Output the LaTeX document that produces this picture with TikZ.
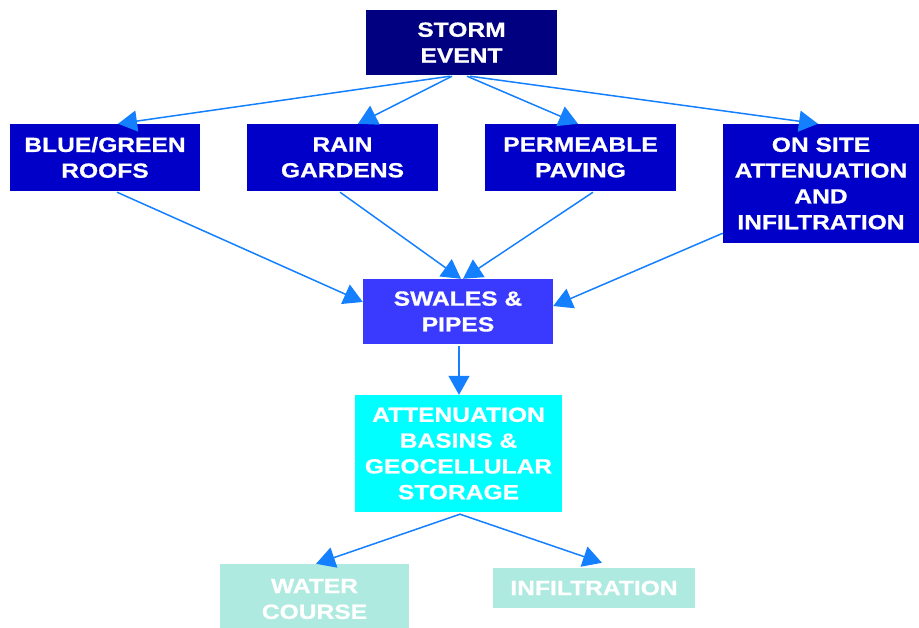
\documentclass[tikz,border=0pt]{standalone}
\usepackage{fontspec}
\setmainfont{Liberation Sans}[FakeStretch=1.2, BoldFeatures={FakeBold=0.8}]
\usetikzlibrary{arrows.meta}
\definecolor{navy}{RGB}{0,0,128}
\definecolor{rowblue}{RGB}{0,0,200}
\definecolor{swblue}{RGB}{58,58,255}
\definecolor{cyanbox}{RGB}{0,255,255}
\definecolor{palebox}{RGB}{175,234,224}
\definecolor{arrowblue}{RGB}{20,128,255}
\tikzset{
  box/.style={rectangle, inner sep=0pt, align=center, text=white,
    font=\fontsize{20.5}{25.8}\selectfont\bfseries},
  flow/.style={draw=arrowblue, line width=1.5pt, -{Triangle[length=19pt,width=21pt]}},
}
\begin{document}
\begin{tikzpicture}[x=1pt,y=-1pt]
\useasboundingbox (0,0) rectangle (919,628);
\node[box, fill=navy, minimum width=191pt, minimum height=65pt] (storm) at (461.5,42.5) {STORM\\EVENT};
\node[box, fill=rowblue, minimum width=190pt, minimum height=67pt] (bg) at (105,157.5) {BLUE/GREEN\\ROOFS};
\node[box, fill=rowblue, minimum width=191pt, minimum height=67pt] (rain) at (342.5,157.5) {RAIN\\GARDENS};
\node[box, fill=rowblue, minimum width=191pt, minimum height=67pt] (perm) at (580.5,157.5) {PERMEABLE\\PAVING};
\node[box, fill=rowblue, minimum width=196pt, minimum height=119pt] (onsite) at (821,183.5) {ON SITE\\ATTENUATION\\AND\\INFILTRATION};
\node[box, fill=swblue, minimum width=190pt, minimum height=65pt] (swales) at (458,311.5) {SWALES \&\\PIPES};
\node[box, fill=cyanbox, minimum width=207pt, minimum height=117pt] (atten) at (458.5,453.5) {ATTENUATION\\BASINS \&\\GEOCELLULAR\\STORAGE};
\node[box, fill=palebox, minimum width=189pt, minimum height=70pt] (water) at (314.5,599) {WATER\\COURSE};
\node[box, fill=palebox, minimum width=202pt, minimum height=40pt] (inf) at (594,588) {INFILTRATION};

\draw[flow] ([xshift=-11.5pt,yshift=-1pt]storm.south) -- ([xshift=13pt]bg.north);
\draw[flow] ([xshift=-9.5pt,yshift=-1pt]storm.south) -- ([xshift=15.5pt]rain.north);
\draw[flow] ([xshift=5.5pt,yshift=-1pt]storm.south) -- ([xshift=-2.5pt]perm.north);
\draw[flow] ([xshift=8.5pt,yshift=-1pt]storm.south) -- ([xshift=-3pt]onsite.north);

\draw[flow] ([xshift=12pt,yshift=-1pt]bg.south) -- ([yshift=9.5pt]swales.west);
\draw[flow] ([xshift=-2.5pt,yshift=-1pt]rain.south) -- ([xshift=3pt]swales.north);
\draw[flow] ([xshift=12.5pt,yshift=-1pt]perm.south) -- ([xshift=5pt]swales.north);
\draw[flow] ([yshift=10pt]onsite.south west) -- ([yshift=5.5pt]swales.east);

\draw[flow] ([xshift=1pt,yshift=-2pt]swales.south) -- ([xshift=0.5pt]atten.north);

\draw[flow] ([xshift=1.5pt,yshift=-2pt]atten.south) -- ([xshift=1.5pt]water.north);
\draw[flow] ([xshift=1.5pt,yshift=-2pt]atten.south) -- ([xshift=8pt,yshift=5pt]inf.north);
\end{tikzpicture}
\end{document}
